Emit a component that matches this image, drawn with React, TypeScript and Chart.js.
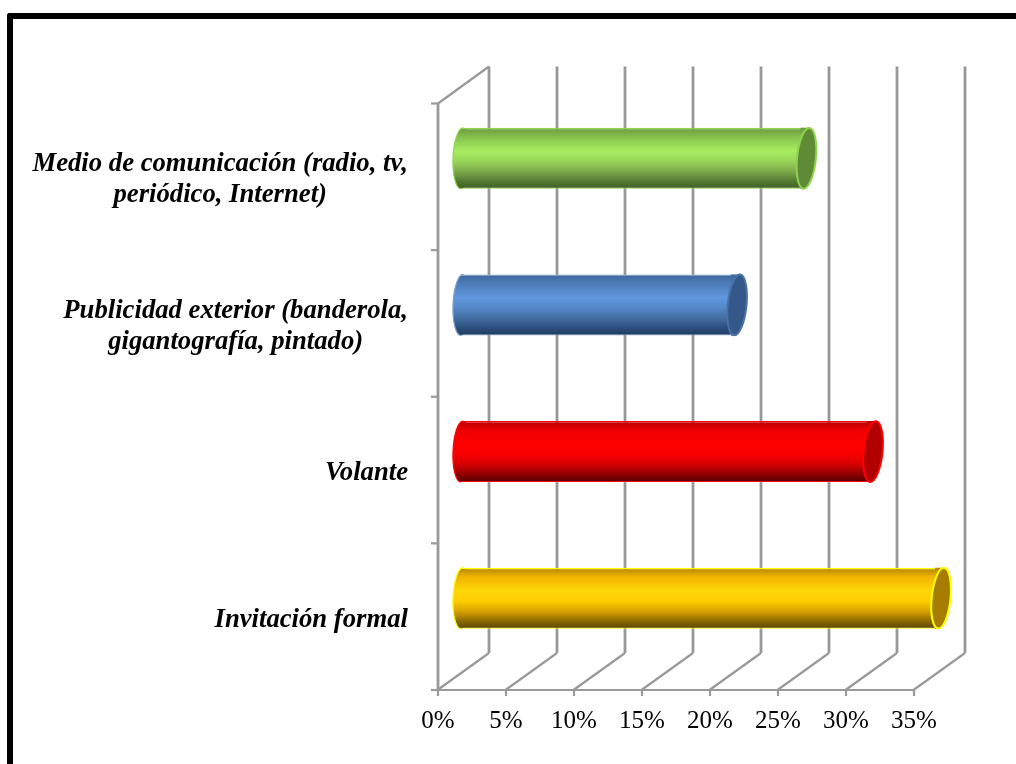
import React, { useEffect, useRef } from "react";
import { Chart, registerables } from "chart.js";

Chart.register(...registerables);

const categories = [
  ["Medio de comunicación (radio, tv,", "periódico, Internet)"],
  ["Publicidad exterior (banderola,", "gigantografía, pintado)"],
  ["Volante"],
  ["Invitación formal"],
];
const shares = [25.4, 20.3, 30.3, 35.3];
const xTicks = { min: 0, max: 35, step: 5 };

// Cylinder shading per bar: colour stops run top to bottom.
const shading = [
  ["#6a9a3e", "#86c04f", "#a8ee60", "#97d557", "#7fae4c", "#557c33", "#3d5f25"],
  ["#3c679c", "#4c7cb8", "#5f97dd", "#5488c8", "#4470a5", "#2d4f7e", "#1f3a60"],
  ["#b80000", "#ee0000", "#ff0000", "#f80000", "#d80000", "#900000", "#500000"],
  ["#b08400", "#f0b400", "#ffd80a", "#ffcc00", "#dba600", "#906c00", "#5a4300"],
];
const gradientStops = [0, 0.15, 0.38, 0.55, 0.7, 0.87, 1];
const endFaces = ["#5f8a36", "#35588a", "#b00000", "#a67d00"];
const outlines = ["#8ed44f", "#7f9fc9", "#ff0000", "#ffff00"];
const endOutlines = ["#8ed44f", "#4a72a8", "#ff0000", "#ffff00"];

const GRID = "#999999";
const SERIF = "'Liberation Serif', 'Times New Roman', serif";
const BAR_RATIO = 0.416;
// Depth of the 3D box, and where the bars sit inside it.
const DEPTH = { x: 51, y: -37 };
const BAR_SHIFT = { x: 23, y: -18.5 };

const barGradient = (c: any) => {
  const { chart: ch, dataIndex } = c;
  const y = ch.scales.y;
  const mid = y ? y.getPixelForValue(dataIndex) : NaN;
  // The option is also read while the scales are still being laid out.
  if (!Number.isFinite(mid)) return shading[dataIndex][2];
  const half = (((y.bottom - y.top) / categories.length) * BAR_RATIO) / 2;
  const g = ch.ctx.createLinearGradient(0, mid - half, 0, mid + half);
  shading[dataIndex].forEach((col, n) => g.addColorStop(gradientStops[n], col));
  return g;
};

const wall3d = {
  id: "wall3d",
  beforeDatasetsDraw(chart: any) {
    const { ctx, scales } = chart;
    const { x, y } = scales;
    const top = y.top;
    const bottom = y.bottom;
    const line = (ax: number, ay: number, bx: number, by: number, w = 2.8) => {
      ctx.lineWidth = w;
      ctx.beginPath();
      ctx.moveTo(ax, ay);
      ctx.lineTo(bx, by);
      ctx.stroke();
    };
    ctx.save();
    ctx.strokeStyle = GRID;
    ctx.lineCap = "butt";
    for (const tick of x.ticks) {
      const px = x.getPixelForValue(tick.value);
      line(px + DEPTH.x, top + DEPTH.y, px + DEPTH.x, bottom + DEPTH.y);
      line(px - 0.5, bottom, px + DEPTH.x, bottom + DEPTH.y, 2.2);
      line(px, bottom, px, bottom + 6, 2.2);
    }
    const left = x.left;
    line(left, top, left, bottom);
    line(left, top, left + DEPTH.x, top + DEPTH.y, 2.2);
    line(left - 7, bottom, x.right, bottom, 2.2);
    const band = (bottom - top) / categories.length;
    for (let i = 0; i <= categories.length; i++) {
      line(left - 7, top + band * i, left, top + band * i, 2.2);
    }
    ctx.restore();
  },
  beforeDatasetDraw(chart: any) {
    const { ctx } = chart;
    const meta = chart.getDatasetMeta(0);
    ctx.save();
    ctx.translate(BAR_SHIFT.x, BAR_SHIFT.y);
    // Rounded near end of each cylinder, underneath the bar body.
    meta.data.forEach((bar: any, i: number) => {
      const ry = bar.height / 2;
      ctx.beginPath();
      ctx.ellipse(bar.base + 1, bar.y, 9, ry, 0.04, 0, Math.PI * 2);
      ctx.fillStyle = barGradient({ chart, dataIndex: i });
      ctx.fill();
      ctx.beginPath();
      ctx.ellipse(bar.base + 1, bar.y, 9, ry, 0.04, Math.PI / 2, (3 * Math.PI) / 2);
      ctx.strokeStyle = outlines[i];
      ctx.lineWidth = 1.2;
      ctx.stroke();
    });
  },
  afterDatasetDraw(chart: any) {
    const { ctx } = chart;
    const meta = chart.getDatasetMeta(0);
    // Far end of each cylinder: a slightly tilted elliptical face.
    meta.data.forEach((bar: any, i: number) => {
      const ry = bar.height / 2;
      const t = bar.y - ry;
      const b = bar.y + ry;
      ctx.beginPath();
      ctx.moveTo(bar.x - 6, t);
      ctx.lineTo(bar.x + 3, t);
      ctx.lineTo(bar.x - 3, b);
      ctx.lineTo(bar.x - 6, b);
      ctx.closePath();
      ctx.fillStyle = barGradient({ chart, dataIndex: i });
      ctx.fill();
      ctx.beginPath();
      ctx.ellipse(bar.x, bar.y, 9.4, ry, 0.1, 0, Math.PI * 2);
      ctx.fillStyle = endFaces[i];
      ctx.fill();
      ctx.strokeStyle = endOutlines[i];
      ctx.lineWidth = 2;
      ctx.stroke();
    });
    ctx.restore();
  },
  afterDraw(chart: any) {
    const { ctx, scales } = chart;
    const y = scales.y;
    // Category names: each block is flush right, its lines centred on each other.
    const fontSize = 26.7;
    const leading = 31;
    const rightEdge = 408;
    ctx.save();
    ctx.font = `italic bold ${fontSize}px ${SERIF}`;
    ctx.fillStyle = "#000";
    ctx.textBaseline = "middle";
    ctx.textAlign = "center";
    y.getLabels().forEach((lines: string[], i: number) => {
      const widest = Math.max(...lines.map((l) => ctx.measureText(l).width));
      const cx = rightEdge - widest / 2;
      const cy = y.getPixelForValue(i) + 3;
      lines.forEach((l, n) => {
        ctx.fillText(l, cx, cy + (n - (lines.length - 1) / 2) * leading);
      });
    });
    ctx.restore();
  },
};

export default function App() {
  const canvasRef = useRef<HTMLCanvasElement | null>(null);

  useEffect(() => {
    const chart = new Chart(canvasRef.current as HTMLCanvasElement, {
      type: "bar",
      plugins: [wall3d],
      data: {
        labels: categories,
        datasets: [
          {
            data: shares,
            clip: false,
            barPercentage: BAR_RATIO,
            categoryPercentage: 1,
            borderColor: (c: any) => outlines[c.dataIndex],
            borderWidth: { top: 1.5, bottom: 1, left: 0, right: 0 },
            borderSkipped: false,
            backgroundColor: barGradient,
          } as any,
        ],
      },
      options: {
        indexAxis: "y",
        responsive: false,
        animation: false,
        layout: { padding: { left: 0, top: 103.5, right: 102, bottom: 0 } },
        plugins: { legend: { display: false }, tooltip: { enabled: false }, title: { display: false } },
        scales: {
          x: {
            min: xTicks.min,
            max: xTicks.max,
            grid: { display: false },
            border: { display: false },
            ticks: {
              stepSize: xTicks.step,
              padding: 8,
              maxRotation: 0,
              color: "#000",
              font: { family: SERIF, size: 25 },
              callback: (v: any) => `${v}%`,
            },
            afterFit: (s: any) => {
              s.height = 74;
            },
          },
          y: {
            grid: { display: false },
            border: { display: false },
            ticks: { display: false },
            afterFit: (s: any) => {
              s.width = 438;
            },
          },
        },
      } as any,
    });
    return () => chart.destroy();
  }, []);

  return (
    <div style={{ position: "absolute", left: 0, top: 0, width: 1016, height: 764, overflow: "hidden", background: "#fff" }}>
      <canvas ref={canvasRef} width={1016} height={764} style={{ display: "block" }} />
      <div
        style={{
          position: "absolute",
          left: 7,
          top: 13,
          right: 0,
          bottom: 0,
          borderLeft: "6px solid #000",
          borderTop: "6px solid #000",
          borderTopLeftRadius: 3,
        }}
      />
    </div>
  );
}
